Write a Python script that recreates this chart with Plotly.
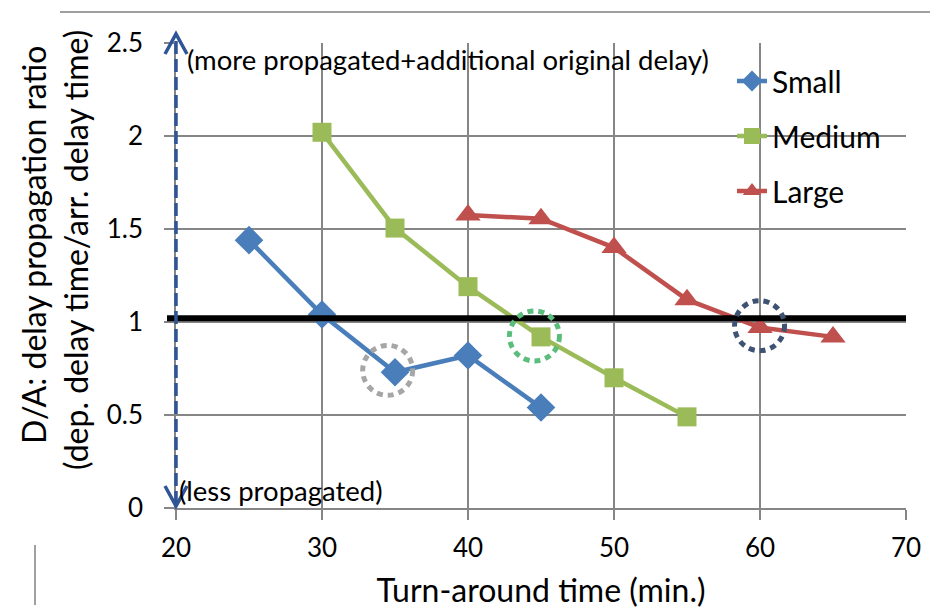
import plotly.graph_objects as go

small_x = [25, 30, 35, 40, 45]
small_y = [1.44, 1.04, 0.73, 0.82, 0.54]
medium_x = [30, 35, 40, 45, 50, 55]
medium_y = [2.02, 1.505, 1.19, 0.92, 0.70, 0.49]
large_x = [40, 45, 50, 55, 60, 65]
large_y = [1.575, 1.555, 1.40, 1.12, 0.97, 0.92]

x_ticks = [20, 30, 40, 50, 60, 70]
y_ticks = [0, 0.5, 1, 1.5, 2, 2.5]
threshold = 1.02
circles = [(34.5, 0.74, "#A6A6A6"), (44.55, 0.925, "#5BBD7B"), (59.97, 0.98, "#3E5373")]

FONT = "Lato"
PX_W, PX_H = 730, 465  # plot area size in pixels

fig = go.Figure()
fig.add_trace(go.Scatter(x=small_x, y=small_y, name="Small", legendgroup="s", mode="lines+markers",
                         line=dict(color="#4A7EBB", width=4.5),
                         marker=dict(symbol="diamond", size=22, color="#4A7EBB")))
fig.add_trace(go.Scatter(x=medium_x, y=medium_y, name="Medium", legendgroup="m", mode="lines+markers",
                         line=dict(color="#9BBB59", width=4.5),
                         marker=dict(symbol="square", size=19, color="#9BBB59")))
fig.add_trace(go.Scatter(x=large_x, y=large_y, name="Large", legendgroup="l", mode="lines+markers",
                         line=dict(color="#C0504D", width=4.5),
                         marker=dict(symbol="triangle-up", size=22, color="#C0504D")))

shapes = []
# threshold line
shapes.append(dict(type="line", xref="paper", yref="y", x0=-9 / PX_W, x1=1, y0=threshold, y1=threshold,
                   line=dict(color="black", width=6), layer="above"))
# dotted circles
for cx, cy, col in circles:
    shapes.append(dict(type="circle", xref="x", yref="y", xsizemode="pixel", ysizemode="pixel",
                       xanchor=cx, yanchor=cy, x0=-25, x1=25, y0=-25, y1=25,
                       line=dict(color=col, width=5, dash="6px,5px"), layer="above"))
# dashed double arrow along the left edge (paper coordinates so it is not clipped)
arrow_col = "#2F5597"
shapes.append(dict(type="line", xref="paper", yref="paper", x0=0, x1=0, y0=4 / PX_H, y1=1 + 6 / PX_H,
                   line=dict(color=arrow_col, width=3.5, dash="13px,5px"), layer="above"))
shapes.append(dict(type="path", xref="paper", yref="paper", xsizemode="pixel", ysizemode="pixel",
                   xanchor=0, yanchor=1, path="M -11,-11 L 0,9 L 11,-11",
                   line=dict(color=arrow_col, width=3.5), layer="above"))
shapes.append(dict(type="path", xref="paper", yref="paper", xsizemode="pixel", ysizemode="pixel",
                   xanchor=0, yanchor=0, path="M -11,22 L 0,2 L 11,22",
                   line=dict(color=arrow_col, width=3.5), layer="above"))
# frame decorations from the source picture
shapes.append(dict(type="line", xref="paper", yref="paper", x0=(60 - 176) / PX_W, x1=(930 - 176) / PX_W,
                   y0=(508 - 12) / PX_H, y1=(508 - 12) / PX_H, line=dict(color="#A0A0A0", width=2)))
shapes.append(dict(type="line", xref="paper", yref="paper", x0=(35 - 176) / PX_W, x1=(35 - 176) / PX_W,
                   y0=(508 - 545) / PX_H, y1=(508 - 605) / PX_H, line=dict(color="#A0A0A0", width=2)))

annotations = [
    dict(text="(more propagated+additional original delay)", x=20.6, y=2.41, xref="x", yref="y",
         xanchor="left", yanchor="middle", showarrow=False, font=dict(family=FONT, size=27.5, color="black")),
    dict(text="(less propagated)", x=20.1, y=0.095, xref="x", yref="y",
         xanchor="left", yanchor="middle", showarrow=False, font=dict(family=FONT, size=27.5, color="black")),
    dict(text="D/A: delay propagation ratio", xref="paper", yref="paper",
         x=(33 - 176) / PX_W, y=(508 - 245) / PX_H, textangle=-90, showarrow=False,
         xanchor="center", yanchor="middle", font=dict(family=FONT, size=32, color="black")),
    dict(text="(dep. delay time/arr. delay time)", xref="paper", yref="paper",
         x=(75 - 176) / PX_W, y=(508 - 250) / PX_H, textangle=-90, showarrow=False,
         xanchor="center", yanchor="middle", font=dict(family=FONT, size=32, color="black")),
]

fig.update_layout(
    width=930, height=609,
    margin=dict(l=176, r=24, t=43, b=101, autoexpand=False),
    paper_bgcolor="white", plot_bgcolor="white",
    font=dict(family=FONT, size=26, color="black"),
    shapes=shapes, annotations=annotations,
    showlegend=True,
    legend=dict(x=(732 - 176) / PX_W, y=(508 - 55) / PX_H, xanchor="left", yanchor="top",
                bgcolor="rgba(0,0,0,0)", font=dict(family=FONT, size=30),
                traceorder="grouped", tracegroupgap=13),
)
fig.update_xaxes(range=[20, 70], tickvals=x_ticks, ticktext=[str(v) for v in x_ticks],
                 showgrid=True, gridcolor="#868686", gridwidth=1.5,
                 showline=True, linecolor="#868686", linewidth=1.5,
                 ticks="outside", ticklen=10, tickcolor="#868686", tickwidth=1.5,
                 zeroline=False, tickfont=dict(size=26), ticklabelstandoff=6, automargin=False,
                 title=dict(text="Turn-around time (min.)", font=dict(size=32), standoff=18))
fig.update_yaxes(range=[0, 2.5], tickvals=y_ticks, ticktext=["0", "0.5", "1", "1.5", "2", "2.5"],
                 showgrid=True, gridcolor="#868686", gridwidth=1.5,
                 showline=True, linecolor="#868686", linewidth=1.5, mirror=False,
                 ticks="outside", ticklen=10, tickcolor="#868686", tickwidth=1.5,
                 zeroline=False, tickfont=dict(size=26), ticklabelstandoff=16, automargin=False)

fig.write_html("out.html")
